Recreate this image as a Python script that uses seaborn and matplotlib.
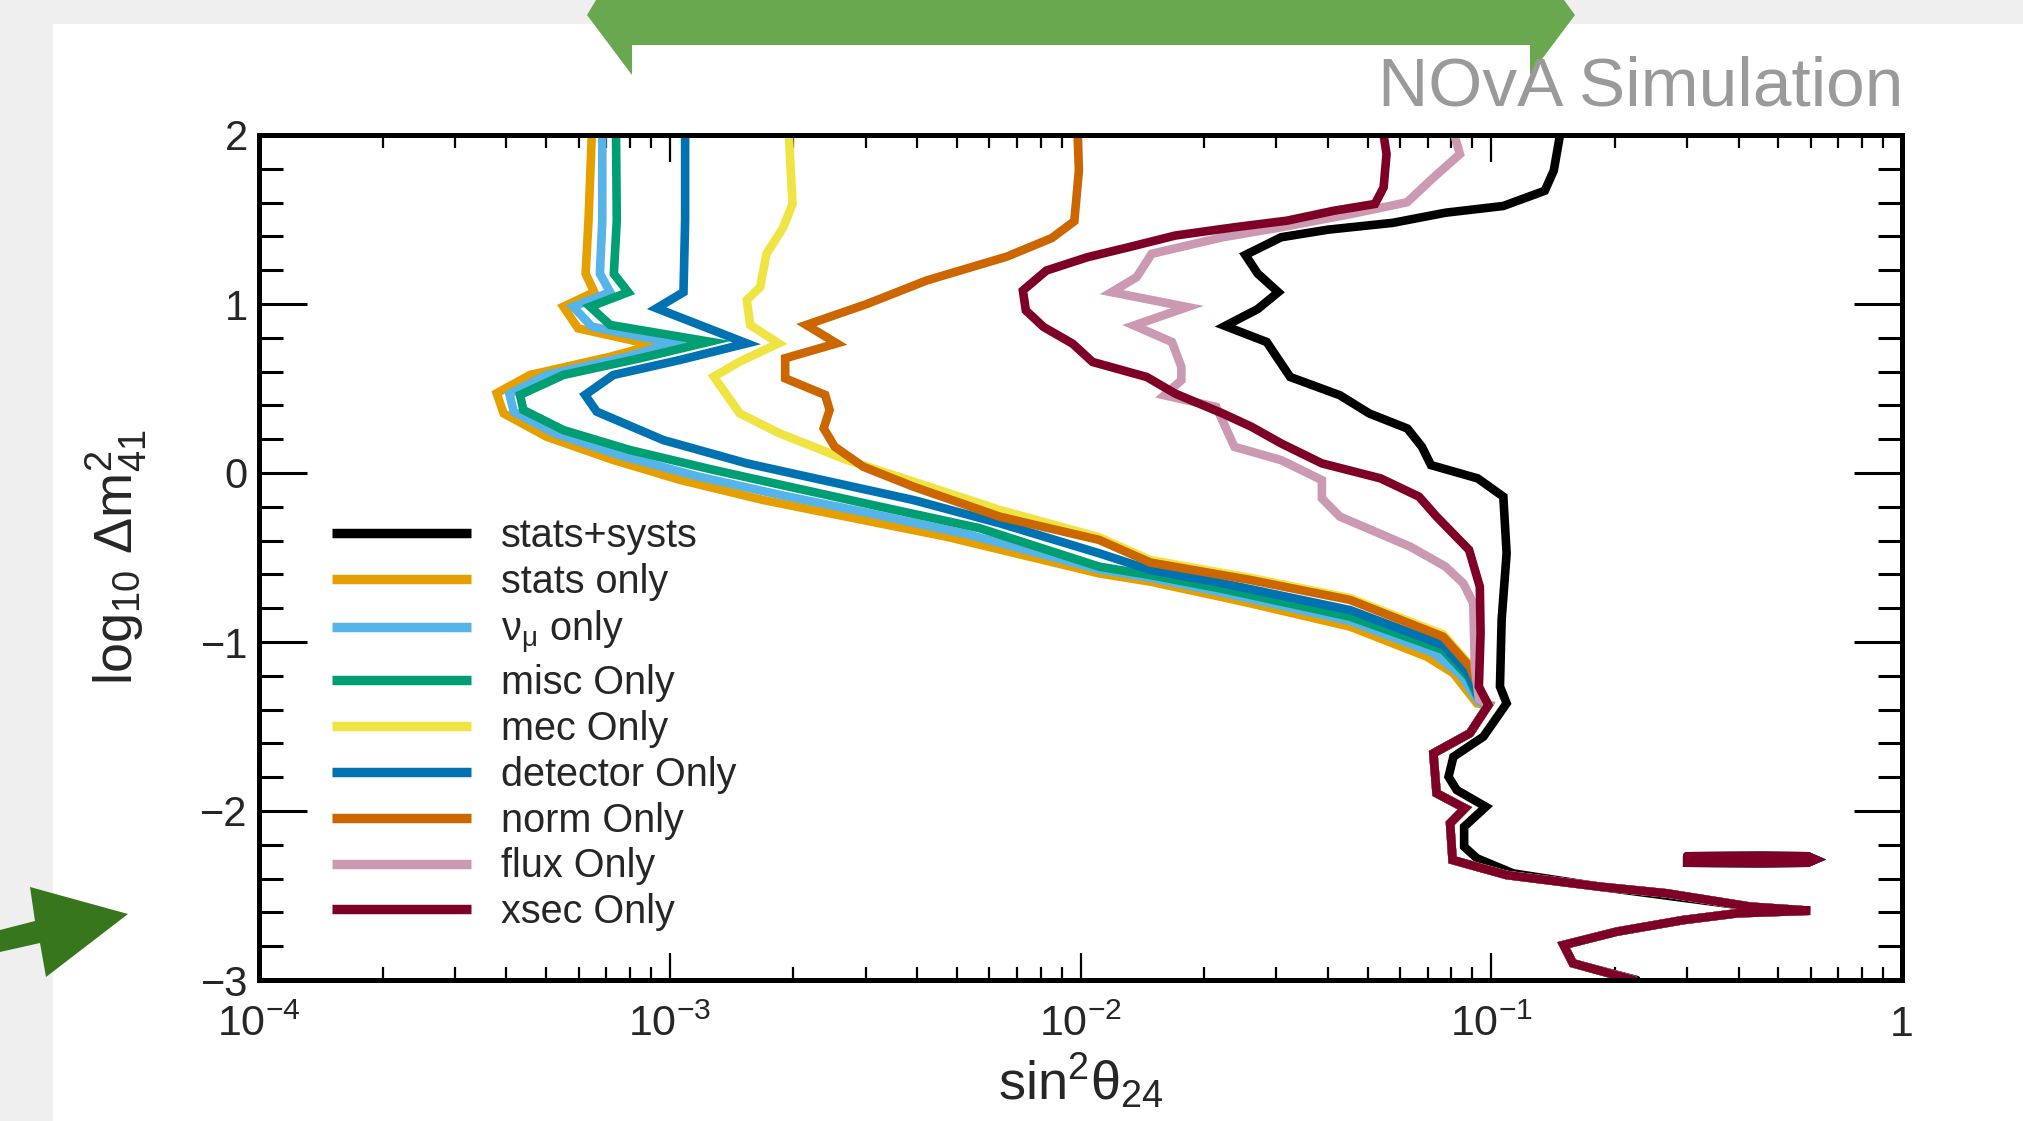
import numpy as np
import pandas as pd
import matplotlib
matplotlib.use("Agg")
import matplotlib.pyplot as plt
import seaborn as sns
from matplotlib.patches import Polygon, Rectangle
from matplotlib.ticker import LogLocator, MultipleLocator, NullFormatter, FixedLocator, FixedFormatter

# ---------------- data ----------------
series_names = ["stats+systs", "stats only", r"$\nu_{\mu}$ only", "misc Only", "mec Only",
                "detector Only", "norm Only", "flux Only", "xsec Only"]
series_colors = ["#000000", "#E69F00", "#56B4E9", "#009E73", "#F0E442",
                 "#0072B2", "#CC6600", "#CC99B2", "#7F0026"]

# common lower branch shared by all single-systematic contours (log10 dm2 < -1.37)
lower_s2 = [0.0984, 0.0887, 0.0723, 0.0736, 0.0863, 0.0794, 0.0805, 0.109, 0.184,
            0.267, 0.427, 0.597, 0.398, 0.294, 0.202, 0.150, 0.158, 0.222]
lower_dm2 = [-1.373, -1.54, -1.659, -1.895, -1.984, -2.073, -2.29, -2.379, -2.448,
             -2.487, -2.566, -2.59, -2.605, -2.645, -2.714, -2.793, -2.901, -3.0]

# small detached (closed) contour piece near log10 dm2 = -2.29
island_s2 = [0.300, 0.45, 0.59, 0.615, 0.59, 0.45, 0.300, 0.300]
island_dm2 = [-2.268, -2.265, -2.268, -2.287, -2.306, -2.309, -2.306, -2.268]

stats_systs_s2 = [0.147, 0.142, 0.135, 0.107, 0.0773, 0.0575, 0.0401, 0.0308, 0.0252, 0.0270,
                  0.0303, 0.0270, 0.0225, 0.0284, 0.0324, 0.0428, 0.0505, 0.0625, 0.0678, 0.0713,
                  0.0927, 0.107, 0.109, 0.106, 0.105, 0.109, 0.0957, 0.0809, 0.0787, 0.0824,
                  0.0970, 0.0859, 0.0859, 0.0923, 0.113, 0.186, 0.427, 0.597, 0.398, 0.294,
                  0.202, 0.150, 0.158, 0.226]
stats_systs_dm2 = [2.0, 1.79, 1.67, 1.58, 1.54, 1.48, 1.44, 1.395, 1.29, 1.18,
                   1.07, 0.97, 0.87, 0.775, 0.568, 0.46, 0.352, 0.263, 0.155, 0.047,
                   -0.032, -0.14, -0.475, -0.868, -1.264, -1.363, -1.56, -1.679, -1.797, -1.876,
                   -1.975, -2.093, -2.211, -2.28, -2.369, -2.45, -2.566, -2.59, -2.605, -2.645,
                   -2.714, -2.793, -2.901, -3.0]

stats_only_s2 = [0.000646, 0.000634, 0.000624, 0.000655, 0.000551, 0.000598, 0.000912, 0.000716,
                 0.000457, 0.000379, 0.000394, 0.000501, 0.000729, 0.00106, 0.00169, 0.00270,
                 0.00472, 0.0111, 0.0148, 0.0219, 0.0259, 0.0453, 0.0697, 0.0809, 0.0923]
stats_only_dm2 = [2.0, 1.49, 1.18, 1.07, 0.984, 0.856, 0.757, 0.688, 0.580, 0.472, 0.353, 0.215,
                  0.077, -0.041, -0.160, -0.259, -0.377, -0.594, -0.643, -0.732, -0.771, -0.909,
                  -1.087, -1.185, -1.363]

numu_s2 = [0.000685, 0.000685, 0.000676, 0.000716, 0.000582, 0.000646, 0.00102, 0.000776,
           0.000501, 0.000407, 0.000417, 0.000525, 0.000767, 0.00117, 0.00186, 0.00302,
           0.00525, 0.0111, 0.0148, 0.0219, 0.0453, 0.0724, 0.0843, 0.0929]
numu_dm2 = [2.0, 1.49, 1.18, 1.07, 0.984, 0.866, 0.767, 0.685, 0.58, 0.467, 0.363, 0.235,
            0.10, -0.02, -0.13, -0.235, -0.36, -0.57, -0.62, -0.705, -0.875, -1.065, -1.195, -1.35]

misc_s2 = [0.000740, 0.000743, 0.000731, 0.000792, 0.000640, 0.000716, 0.00125, 0.000847,
           0.000551, 0.000432, 0.000440, 0.000551, 0.000800, 0.00128, 0.00204, 0.00325,
           0.00569, 0.0111, 0.0148, 0.0219, 0.0453, 0.0764, 0.0879, 0.0933]
misc_dm2 = [2.0, 1.493, 1.178, 1.07, 0.984, 0.876, 0.777, 0.679, 0.580, 0.462, 0.373, 0.254,
            0.136, 0.018, -0.091, -0.199, -0.327, -0.554, -0.604, -0.683, -0.850, -1.047,
            -1.205, -1.34]

mec_s2 = [0.00195, 0.00199, 0.00189, 0.00172, 0.00166, 0.00154, 0.00157, 0.00184, 0.00148,
          0.00128, 0.00148, 0.00185, 0.00270, 0.00392, 0.00637, 0.0111, 0.0148, 0.0259,
          0.0453, 0.0764, 0.0887, 0.0944]
mec_dm2 = [2.0, 1.592, 1.454, 1.297, 1.10, 1.024, 0.876, 0.767, 0.659, 0.570, 0.353, 0.235,
           0.077, -0.051, -0.219, -0.38, -0.515, -0.62, -0.74, -0.955, -1.135, -1.30]

detector_s2 = [0.00109, 0.00109, 0.00108, 0.000929, 0.00154, 0.00106, 0.000729, 0.000622,
               0.000664, 0.000964, 0.00154, 0.00245, 0.00392, 0.00637, 0.0111, 0.0148, 0.0219,
               0.0453, 0.0764, 0.0879, 0.0933]
detector_dm2 = [2.0, 1.493, 1.07, 0.975, 0.767, 0.669, 0.580, 0.462, 0.363, 0.195, 0.057,
                -0.051, -0.160, -0.298, -0.475, -0.574, -0.65, -0.811, -1.018, -1.185, -1.32]

norm_s2 = [0.00984, 0.00991, 0.00966, 0.00851, 0.00661, 0.00423, 0.00302, 0.00215, 0.00255,
           0.00191, 0.00191, 0.00239, 0.00245, 0.00237, 0.00252, 0.00296, 0.00392, 0.00637,
           0.0111, 0.0148, 0.0259, 0.0453, 0.0764, 0.0887, 0.0944]
norm_dm2 = [2.0, 1.79, 1.49, 1.39, 1.28, 1.14, 1.0, 0.876, 0.767, 0.679, 0.560, 0.462, 0.373,
            0.264, 0.156, 0.037, -0.081, -0.259, -0.396, -0.53, -0.633, -0.751, -0.969,
            -1.146, -1.30]

flux_s2 = [0.0813, 0.0839, 0.0724, 0.0624, 0.0457, 0.0308, 0.0222, 0.0149, 0.0137, 0.0119,
           0.0182, 0.0135, 0.0167, 0.0176, 0.0176, 0.0160, 0.0214, 0.0237, 0.0308, 0.0387,
           0.0387, 0.0428, 0.0635, 0.0773, 0.0855, 0.0904, 0.0912, 0.0933]
flux_dm2 = [2.0, 1.887, 1.749, 1.602, 1.533, 1.454, 1.395, 1.297, 1.159, 1.070, 0.982, 0.873,
            0.775, 0.628, 0.549, 0.460, 0.391, 0.155, 0.076, -0.042, -0.150, -0.258, -0.436,
            -0.553, -0.653, -0.771, -1.144, -1.34]

xsec_s2 = [0.0547, 0.0556, 0.0547, 0.0521, 0.0414, 0.0318, 0.0237, 0.0170, 0.0131, 0.0104,
           0.00826, 0.00724, 0.00736, 0.00813, 0.00957, 0.0107, 0.0145, 0.0170, 0.0222, 0.0261,
           0.0308, 0.0387, 0.0538, 0.0667, 0.0736, 0.0883, 0.0938, 0.0942, 0.0933]
xsec_dm2 = [2.0, 1.887, 1.69, 1.592, 1.552, 1.493, 1.454, 1.405, 1.336, 1.277, 1.198, 1.080,
            0.962, 0.864, 0.765, 0.657, 0.568, 0.470, 0.352, 0.273, 0.175, 0.057, -0.032,
            -0.140, -0.258, -0.455, -0.673, -0.947, -1.264]

x_tick_values = [1e-4, 1e-3, 1e-2, 1e-1, 1.0]
x_tick_labels = [r"$10^{-4}$", r"$10^{-3}$", r"$10^{-2}$", r"$10^{-1}$", "1"]
y_tick_values = [-3, -2, -1, 0, 1, 2]

# ---------------- assemble long table ----------------
upper_parts = {
    series_names[0]: (stats_systs_s2, stats_systs_dm2),
    series_names[1]: (stats_only_s2, stats_only_dm2),
    series_names[2]: (numu_s2, numu_dm2),
    series_names[3]: (misc_s2, misc_dm2),
    series_names[4]: (mec_s2, mec_dm2),
    series_names[5]: (detector_s2, detector_dm2),
    series_names[6]: (norm_s2, norm_dm2),
    series_names[7]: (flux_s2, flux_dm2),
    series_names[8]: (xsec_s2, xsec_dm2),
}
island_owners = [series_names[0], series_names[5], series_names[8]]

rows = []
for name in series_names:
    s2, dm2 = upper_parts[name]
    assert len(s2) == len(dm2), name
    if name != series_names[0]:
        s2 = s2 + lower_s2
        dm2 = dm2 + lower_dm2
    for a, b in zip(s2, dm2):
        rows.append({"series": name, "seg": name + "|main", "s2": a, "dm2": b})
    if name in island_owners:
        for a, b in zip(island_s2, island_dm2):
            rows.append({"series": name, "seg": name + "|island", "s2": a, "dm2": b})
df = pd.DataFrame(rows)

# ---------------- style ----------------
sns.set_theme(style="ticks")
plt.rcParams["font.family"] = ["Liberation Sans", "DejaVu Sans"]
plt.rcParams["mathtext.fontset"] = "custom"
plt.rcParams["mathtext.rm"] = "Liberation Sans"
plt.rcParams["mathtext.it"] = "Liberation Sans:italic"
plt.rcParams["mathtext.bf"] = "Liberation Sans:bold"
plt.rcParams["mathtext.default"] = "regular"
plt.rcParams["lines.solid_joinstyle"] = "miter"

W, H = 2024, 1121
fig = plt.figure(figsize=(W / 100, H / 100), dpi=100)
fig.patch.set_facecolor("#efefef")

# white slide panel
fig.add_artist(Rectangle((53 / W, 0), 1 - 53 / W, 1 - 24 / H, transform=fig.transFigure,
                         facecolor="white", edgecolor="none", zorder=0))

def px(pts):
    return [(x / W, 1 - y / H) for x, y in pts]

# green banner at top
banner = [(596, 0), (1564, 0), (1575, 15), (1530, 75), (1530, 45), (632, 45), (632, 75), (587, 15)]
fig.add_artist(Polygon(px(banner), closed=True, transform=fig.transFigure,
                       facecolor="#6aa84f", edgecolor="none", zorder=1))
# green arrow at left
arrow = [(0, 930), (35, 921), (30, 887), (128, 914), (46, 977), (40, 943), (0, 952)]
fig.add_artist(Polygon(px(arrow), closed=True, transform=fig.transFigure,
                       facecolor="#38761d", edgecolor="none", zorder=1))

fig.text(1903 / W, 1 - 106 / H, "NOvA Simulation", ha="right", va="baseline",
         fontsize=50, color="#9a9a9a")

ax = fig.add_axes([259 / W, 1 - 980 / H, (1902 - 259) / W, (980 - 135) / H])
ax.set_facecolor("white")
ax.set_xscale("log")
ax.set_xlim(1e-4, 1)
ax.set_ylim(-3, 2)

palette = dict(zip(series_names, series_colors))
sns.lineplot(data=df, x="s2", y="dm2", hue="series", hue_order=series_names,
             palette=palette, units="seg", estimator=None, sort=False,
             linewidth=6.2, ax=ax, legend=True)

ax.set_xlim(1e-4, 1)
ax.set_ylim(-3, 2)

# ticks
ax.xaxis.set_major_locator(FixedLocator(x_tick_values))
ax.xaxis.set_major_formatter(FixedFormatter(x_tick_labels))
ax.xaxis.set_minor_locator(LogLocator(base=10, subs=np.arange(2, 10)))
ax.xaxis.set_minor_formatter(NullFormatter())
ax.set_yticks(y_tick_values)
ax.yaxis.set_minor_locator(MultipleLocator(0.2))

ax.tick_params(axis="y", which="major", direction="in", length=34.5, width=2.2,
               left=True, right=True, labelsize=30, pad=8, color="black")
ax.tick_params(axis="y", which="minor", direction="in", length=17.5, width=2.2,
               left=True, right=True, color="black")
ax.tick_params(axis="x", which="major", direction="in", length=19.5, width=1.6,
               bottom=True, top=True, labelsize=31, pad=18, color="black")
ax.tick_params(axis="x", which="minor", direction="in", length=9.5, width=1.6,
               bottom=True, top=True, color="black")
for sp in ax.spines.values():
    sp.set_visible(True)
    sp.set_linewidth(3.6)
    sp.set_color("black")

ax.set_xlabel(r"$sin^{2}\theta_{24}$", fontsize=39)
ax.xaxis.set_label_coords(0.5, -0.085)
ax.set_ylabel(r"$log_{10}\ \Delta m^{2}_{41}$", fontsize=39)
ax.yaxis.set_label_coords(-0.067, 0.5)

# legend
old = ax.get_legend()
handles = list(old.legend_handles)
labels = [t.get_text() for t in old.get_texts()]
old.remove()
leg = ax.legend(handles, labels, loc="upper left",
                bbox_to_anchor=((332 - 259) / 1643, 1 - (517 - 135) / 845),
                frameon=False, fontsize=28.5, handlelength=3.5, handletextpad=0.78,
                labelspacing=0.2, borderpad=0, borderaxespad=0)
for ln in leg.get_lines():
    ln.set_linewidth(6.8)
    ln.set_solid_capstyle("butt")

fig.savefig("out.png", dpi=100, facecolor=fig.get_facecolor())
